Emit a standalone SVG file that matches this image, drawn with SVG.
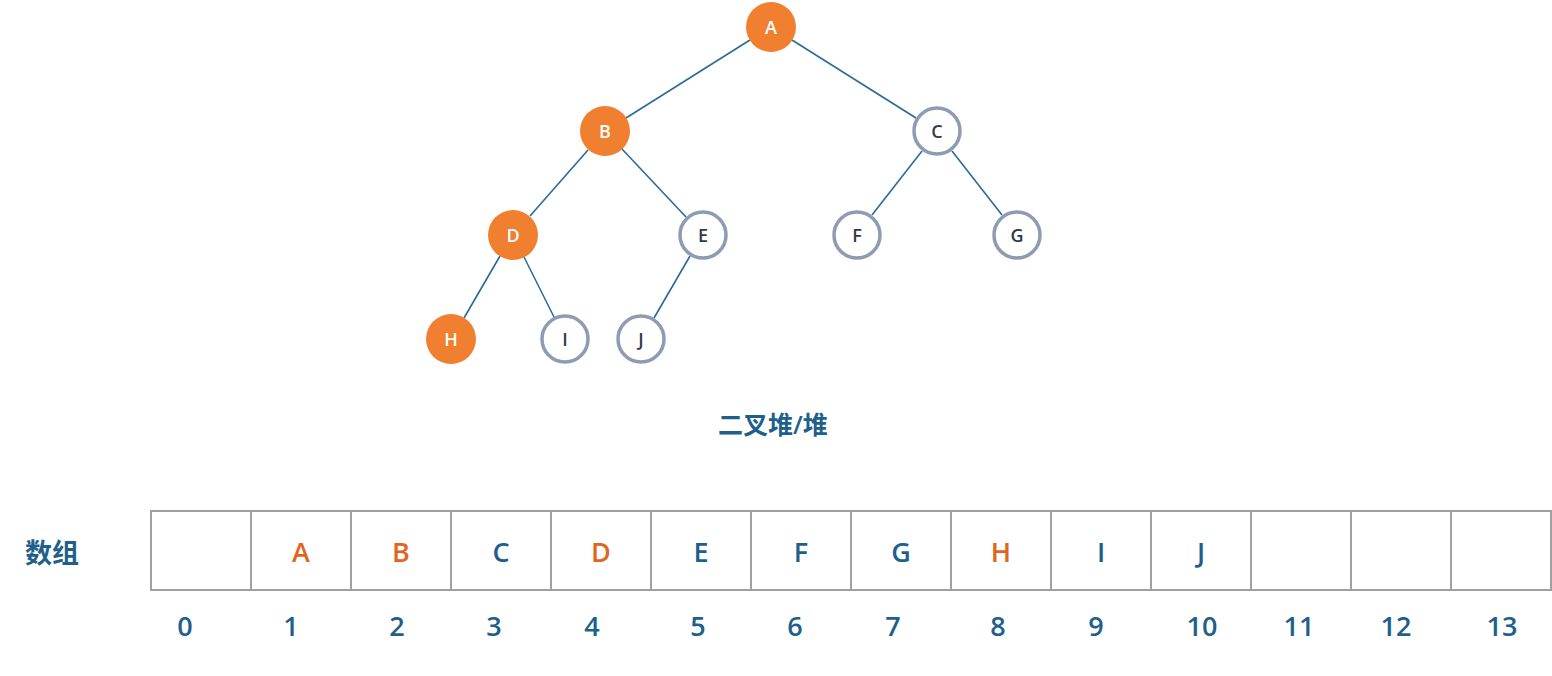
<svg xmlns="http://www.w3.org/2000/svg" width="1552" height="676" viewBox="0 0 1552 676">
<style>
.f{fill:#f07f30}
.o{fill:#fff;stroke:#8d9cb2;stroke-width:3.5}
.nt{font-family:"Open Sans","Liberation Sans",sans-serif;font-size:18px;font-weight:600;text-anchor:middle;dominant-baseline:central}
.w{fill:#fff}.d{fill:#2e3a48}
.e{stroke:#2a6a9a;stroke-width:1.6}
.c{fill:#fff;stroke:#a0a0a0;stroke-width:2}
.t{font-family:"Open Sans","Liberation Sans","Noto Sans CJK SC",sans-serif;font-size:27px;font-weight:600;text-anchor:middle;dominant-baseline:central;fill:#1f5f8b}
.or{fill:#e0661f}
</style>
<rect width="1552" height="676" fill="#fff"/>
<g id="edges">
<line class="e" x1="750" y1="40" x2="626" y2="118"/>
<line class="e" x1="792" y1="40" x2="916" y2="118"/>
<line class="e" x1="588" y1="150" x2="530" y2="216"/>
<line class="e" x1="622" y1="149" x2="686" y2="217"/>
<line class="e" x1="922" y1="151" x2="872" y2="215"/>
<line class="e" x1="952" y1="151" x2="1002" y2="215"/>
<line class="e" x1="500" y1="256" x2="464" y2="318"/>
<line class="e" x1="524" y1="257" x2="554" y2="317"/>
<line class="e" x1="690" y1="256" x2="654" y2="318"/>
</g>
<g id="A"><circle class="f" cx="771" cy="27" r="25"/><text class="nt w" x="771" y="27">A</text></g>
<g id="B"><circle class="f" cx="605" cy="131" r="25"/><text class="nt w" x="605" y="131">B</text></g>
<g id="C"><circle class="o" cx="937" cy="131" r="23"/><text class="nt d" x="937" y="131">C</text></g>
<g id="D"><circle class="f" cx="513" cy="235" r="25"/><text class="nt w" x="513" y="235">D</text></g>
<g id="E"><circle class="o" cx="703" cy="235" r="23"/><text class="nt d" x="703" y="235">E</text></g>
<g id="F"><circle class="o" cx="857" cy="235" r="23"/><text class="nt d" x="857" y="235">F</text></g>
<g id="G"><circle class="o" cx="1017" cy="235" r="23"/><text class="nt d" x="1017" y="235">G</text></g>
<g id="H"><circle class="f" cx="451" cy="339" r="25"/><text class="nt w" x="451" y="339">H</text></g>
<g id="I"><circle class="o" cx="565" cy="339" r="23"/><text class="nt d" x="565" y="339">I</text></g>
<g id="J"><circle class="o" cx="641" cy="339" r="23"/><text class="nt d" x="641" y="339">J</text></g>
<text class="t" x="773" y="424" style="font-size:25px">二叉堆/堆</text>
<text class="t" x="52" y="552">数组</text>
<g id="array">
<rect class="c" x="151" y="511" width="100" height="79"/>
<rect class="c" x="251" y="511" width="100" height="79"/>
<rect class="c" x="351" y="511" width="100" height="79"/>
<rect class="c" x="451" y="511" width="100" height="79"/>
<rect class="c" x="551" y="511" width="100" height="79"/>
<rect class="c" x="651" y="511" width="100" height="79"/>
<rect class="c" x="751" y="511" width="100" height="79"/>
<rect class="c" x="851" y="511" width="100" height="79"/>
<rect class="c" x="951" y="511" width="100" height="79"/>
<rect class="c" x="1051" y="511" width="100" height="79"/>
<rect class="c" x="1151" y="511" width="100" height="79"/>
<rect class="c" x="1251" y="511" width="100" height="79"/>
<rect class="c" x="1351" y="511" width="100" height="79"/>
<rect class="c" x="1451" y="511" width="100" height="79"/>
<text class="t or" x="301" y="551">A</text>
<text class="t or" x="401" y="551">B</text>
<text class="t" x="501" y="551">C</text>
<text class="t or" x="601" y="551">D</text>
<text class="t" x="701" y="551">E</text>
<text class="t" x="801" y="551">F</text>
<text class="t" x="901" y="551">G</text>
<text class="t or" x="1001" y="551">H</text>
<text class="t" x="1101" y="551">I</text>
<text class="t" x="1201" y="551">J</text>
</g>
<g id="indices">
<text class="t" x="185" y="625">0</text>
<text class="t" x="291" y="625">1</text>
<text class="t" x="397" y="625">2</text>
<text class="t" x="494" y="625">3</text>
<text class="t" x="592" y="625">4</text>
<text class="t" x="698" y="625">5</text>
<text class="t" x="795" y="625">6</text>
<text class="t" x="893" y="625">7</text>
<text class="t" x="998" y="625">8</text>
<text class="t" x="1096" y="625">9</text>
<text class="t" x="1202" y="625">10</text>
<text class="t" x="1299" y="625">11</text>
<text class="t" x="1396" y="625">12</text>
<text class="t" x="1502" y="625">13</text>
</g>
</svg>
